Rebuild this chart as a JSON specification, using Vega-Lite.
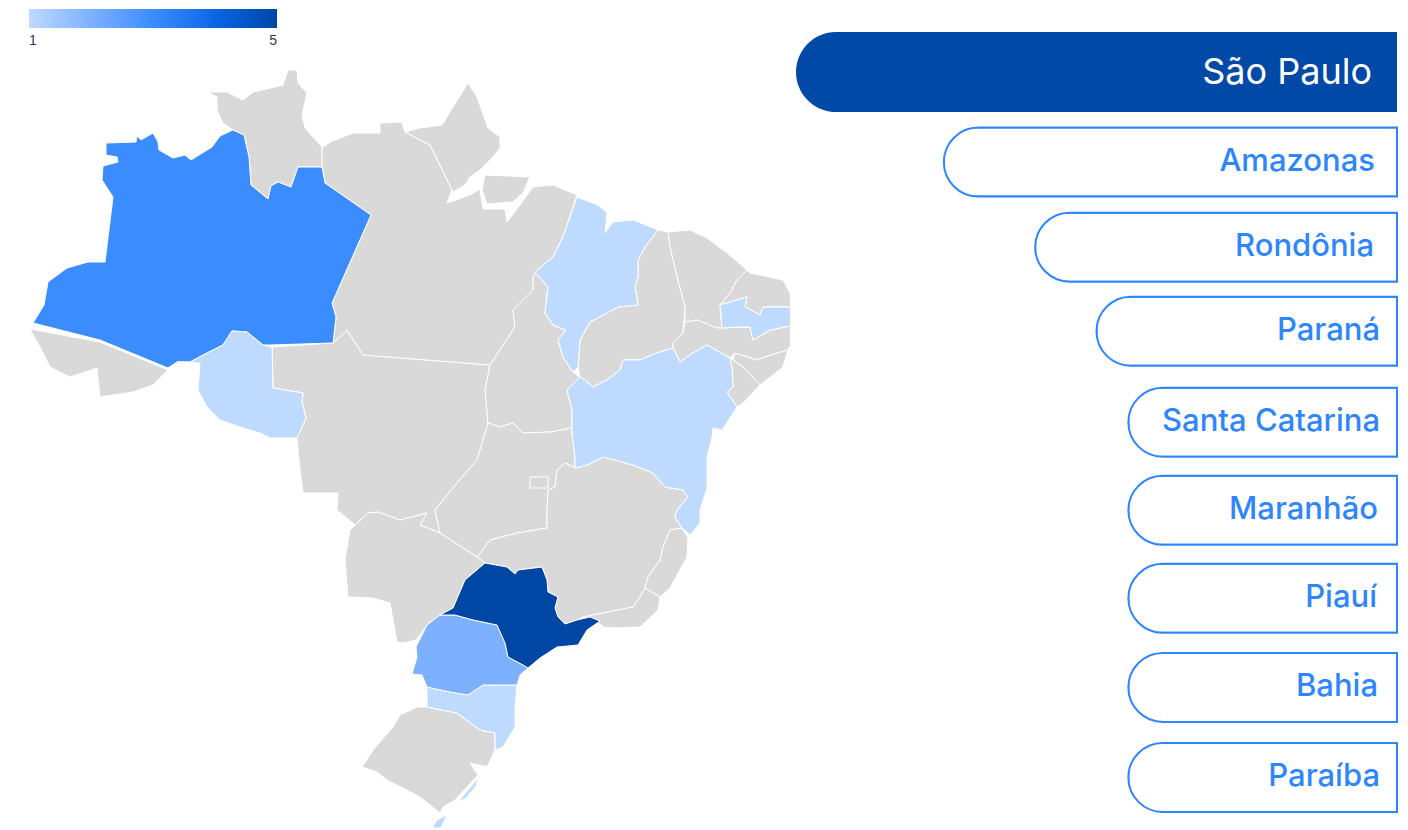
{"$schema":"https://vega.github.io/schema/vega-lite/v6.json","padding":0,"spacing":0,"background":"white","config":{"view":{"stroke":null}},
"datasets":{"ranking":[{"estado":"São Paulo","pct":100},{"estado":"Amazonas","pct":75.4},{"estado":"Rondônia","pct":60.2},{"estado":"Paraná","pct":50},{"estado":"Santa Catarina","pct":44.7},{"estado":"Maranhão","pct":44.7},{"estado":"Piauí","pct":44.7},{"estado":"Bahia","pct":44.7},{"estado":"Paraíba","pct":44.7}],
"estados":[
{"type":"Feature","properties":{"name":"Roraima","value":null},"geometry":{"type":"Polygon","coordinates":[[[-63.6,3.9],[-63.15,3.65],[-63.15,3],[-62.85,2.35],[-62.35,2],[-61.8,1.75],[-61.55,0.65],[-61.45,-0.75],[-60.6,-1.45],[-60.45,-0.8],[-60.1,-0.6],[-59.45,-0.85],[-59.1,0.15],[-57.9,0.15],[-57.9,1.15],[-58.75,2.1],[-58.9,2.75],[-58.65,3.85],[-59.1,4.35],[-59.15,5],[-59.6,5],[-59.85,4.25],[-61.35,3.9],[-61.85,3.5],[-62.65,3.9],[-63.6,3.9]]]}},
{"type":"Feature","properties":{"name":"Acre","value":null},"geometry":{"type":"Polygon","coordinates":[[[-72.5,-7.95],[-69,-8.6],[-65.6,-10],[-66.35,-10.75],[-67.35,-11.1],[-69,-11.35],[-69.15,-9.9],[-70.5,-10.35],[-71.5,-9.85],[-72,-8.85],[-72.5,-7.95]]]}},
{"type":"Feature","properties":{"name":"Mato Grosso","value":null},"geometry":{"type":"Polygon","coordinates":[[[-60.4,-8.85],[-57.35,-8.65],[-56.65,-8],[-55.85,-9.25],[-49.5,-9.75],[-49.75,-11],[-49.6,-12.65],[-50.15,-14.5],[-51.15,-15.65],[-52.25,-17],[-52,-18.15],[-53,-17.75],[-52.65,-17.15],[-54,-17.5],[-55.1,-17.1],[-55.6,-17.15],[-56.25,-17.75],[-57.15,-17],[-57.1,-16.15],[-58.85,-16.15],[-59,-15],[-59.15,-13.4],[-58.7,-12.4],[-58.9,-11.6],[-58.85,-11.15],[-60.35,-10.9],[-60.4,-8.85]]]}},
{"type":"Feature","properties":{"name":"Pará","value":null},"geometry":{"type":"Polygon","coordinates":[[[-57.9,1.1],[-57.5,1.4],[-56.35,1.85],[-55,1.85],[-55,2.35],[-53.9,2.4],[-53.75,1.9],[-52.5,1.25],[-52.25,0.75],[-51.4,-1],[-51.65,-1.65],[-50.5,-1.25],[-50,-0.95],[-49.85,-1.95],[-48.75,-1.95],[-48.65,-2.6],[-48,-1.75],[-47.35,-0.85],[-46.35,-0.75],[-45.15,-1.25],[-45.85,-3.35],[-46.35,-4.35],[-47.25,-5.1],[-47.35,-5.4],[-47.35,-6],[-48.35,-7],[-48.25,-7.85],[-49.5,-9.75],[-55.85,-9.25],[-56.65,-8],[-57.35,-8.65],[-57.2,-7.35],[-57.4,-6.65],[-55.45,-2.25],[-57.75,-0.65],[-57.9,0.15],[-57.9,1.1]]]}},
{"type":"Feature","properties":{"name":"Amapá","value":null},"geometry":{"type":"Polygon","coordinates":[[[-53.75,1.9],[-53,2.1],[-51.9,2.25],[-51.35,3.15],[-50.6,4.35],[-50.15,3.65],[-49.6,2.1],[-49,1.65],[-49,1.1],[-49.4,0.6],[-50,0],[-50.5,-0.35],[-50.75,-0.75],[-51.35,-1.1],[-52.25,0.75],[-52.5,1.25],[-53.75,1.9]]]}},
{"type":"Feature","properties":{"name":"Ilha de Marajó","value":null},"geometry":{"type":"Polygon","coordinates":[[[-49.75,-0.25],[-47.5,-0.35],[-47.85,-1.15],[-48.35,-1.6],[-49.65,-1.7],[-49.9,-1],[-49.75,-0.25]]]}},
{"type":"Feature","properties":{"name":"Tocantins","value":null},"geometry":{"type":"Polygon","coordinates":[[[-47.25,-5.1],[-46.6,-5.85],[-46.75,-7.15],[-46.35,-7.75],[-45.7,-8],[-46.1,-8.5],[-45.85,-9.35],[-45.35,-10.1],[-45,-10.35],[-45.65,-11],[-45.4,-12],[-45.4,-12.9],[-46.5,-13.1],[-47.85,-13.15],[-48.35,-12.65],[-49,-12.85],[-49.6,-12.65],[-49.75,-11],[-49.5,-9.75],[-48.25,-7.85],[-48.35,-7],[-47.35,-6],[-47.35,-5.4],[-47.25,-5.1]]]}},
{"type":"Feature","properties":{"name":"Goiás","value":null},"geometry":{"type":"Polygon","coordinates":[[[-49.6,-12.65],[-49,-12.85],[-48.35,-12.65],[-47.85,-13.15],[-46.5,-13.1],[-45.4,-12.9],[-45.4,-13.15],[-45.25,-14.35],[-45.25,-14.9],[-45.75,-14.65],[-46.15,-15],[-46.25,-15.85],[-46.6,-16],[-46.65,-17],[-46.65,-17.9],[-48.15,-18.15],[-49.5,-18.5],[-50.15,-19.35],[-52,-18.15],[-52.25,-17],[-51.15,-15.65],[-50.15,-14.5],[-49.6,-12.65]]]}},
{"type":"Feature","properties":{"name":"Distrito Federal","value":null},"geometry":{"type":"Polygon","coordinates":[[[-47.5,-15.35],[-46.6,-15.35],[-46.6,-15.9],[-47.5,-15.9],[-47.5,-15.35]]]}},
{"type":"Feature","properties":{"name":"Minas Gerais","value":null},"geometry":{"type":"Polygon","coordinates":[[[-50.15,-19.35],[-49.5,-18.5],[-48.15,-18.15],[-46.65,-17.9],[-46.65,-17],[-46.6,-16],[-46.25,-15.85],[-46.15,-15],[-45.75,-14.65],[-45.25,-14.9],[-44.65,-14.75],[-43.85,-14.35],[-43.25,-14.5],[-42.35,-14.75],[-41.35,-15.15],[-40.75,-15.85],[-39.85,-16],[-39.6,-16.35],[-40.15,-17],[-40.25,-17.35],[-39.9,-17.9],[-40.5,-18],[-40.85,-18.85],[-41,-19.5],[-41.6,-20.35],[-41.75,-20.9],[-42,-21.35],[-42.35,-21.85],[-43.85,-22.15],[-44.85,-22.35],[-45.15,-22.5],[-45.75,-22.7],[-46.1,-22.35],[-46.25,-21.9],[-46.1,-21.35],[-46.6,-21.1],[-46.65,-20.5],[-46.9,-19.85],[-48.1,-20],[-48.25,-20.2],[-48.65,-19.85],[-49.75,-19.65],[-50.15,-19.35]]]}},
{"type":"Feature","properties":{"name":"Espírito Santo","value":null},"geometry":{"type":"Polygon","coordinates":[[[-40.5,-18],[-39.9,-17.9],[-39.6,-18.4],[-39.65,-19.35],[-40.1,-20.15],[-40.5,-20.9],[-41,-21.35],[-41.75,-20.9],[-41.6,-20.35],[-41,-19.5],[-40.85,-18.85],[-40.5,-18]]]}},
{"type":"Feature","properties":{"name":"Rio de Janeiro","value":null},"geometry":{"type":"Polygon","coordinates":[[[-41.75,-20.9],[-41,-21.35],[-41.1,-22],[-42,-22.85],[-43.1,-22.9],[-43.85,-22.85],[-44.1,-22.6],[-44.85,-22.35],[-43.85,-22.15],[-42.35,-21.85],[-42,-21.35],[-41.75,-20.9]]]}},
{"type":"Feature","properties":{"name":"Rio Grande do Sul","value":null},"geometry":{"type":"Polygon","coordinates":[[[-53.15,-26.85],[-52.65,-26.85],[-51.15,-27.15],[-50,-28],[-49.25,-28.15],[-49.25,-29],[-49.65,-29.85],[-50.5,-29.65],[-50.1,-30.25],[-51.25,-31.5],[-51.85,-31.85],[-52,-32.15],[-53,-31.35],[-54.65,-30.5],[-55.15,-30.1],[-55.9,-29.85],[-55.35,-29],[-54.35,-27.85],[-54,-27.25],[-53.15,-26.85]]]}},
{"type":"Feature","properties":{"name":"Mato Grosso do Sul","value":null},"geometry":{"type":"Polygon","coordinates":[[[-56.25,-17.75],[-55.6,-17.15],[-55.1,-17.1],[-54,-17.5],[-52.65,-17.15],[-53,-17.75],[-52,-18.15],[-50.15,-19.35],[-49.75,-19.65],[-50.75,-20.5],[-51.35,-21.9],[-52,-22.25],[-52.65,-22.75],[-53.2,-23.5],[-53.85,-23.65],[-54.15,-23.6],[-54.5,-21.65],[-55.35,-21.4],[-56.6,-21.35],[-56.75,-19.5],[-56.5,-18],[-56.25,-17.75]]]}},
{"type":"Feature","properties":{"name":"Ceará","value":null},"geometry":{"type":"Polygon","coordinates":[[[-40.6,-3.1],[-39.5,-3],[-38.65,-3.4],[-37.65,-4.15],[-36.65,-5],[-37.15,-5.5],[-37.5,-6.15],[-38,-6.75],[-37.9,-7.9],[-38.15,-7.9],[-39.15,-7.5],[-39.75,-7.6],[-39.75,-6.85],[-40.15,-5.35],[-40.5,-3.85],[-40.6,-3.1]]]}},
{"type":"Feature","properties":{"name":"Piauí","value":null},"geometry":{"type":"Polygon","coordinates":[[[-41.1,-3],[-40.6,-3.1],[-40.5,-3.85],[-40.15,-5.35],[-39.75,-6.85],[-39.85,-8.15],[-40.35,-8.65],[-40.35,-8.9],[-41.15,-9.15],[-42,-9.5],[-42.85,-9.5],[-43,-10],[-43.65,-10.5],[-44.35,-10.85],[-44.75,-10.5],[-45,-10.35],[-45.1,-9.85],[-45,-8.5],[-44.5,-7.6],[-43.1,-6.85],[-42.1,-6.75],[-42.25,-5.85],[-42.1,-5.35],[-42.1,-4.5],[-41.75,-3.85],[-41.1,-3]]]}},
{"type":"Feature","properties":{"name":"Rio Grande do Norte","value":null},"geometry":{"type":"Polygon","coordinates":[[[-36.65,-5],[-36.5,-5.15],[-34.85,-5.5],[-34.5,-6.15],[-34.4,-6.85],[-35.85,-6.85],[-36,-7.25],[-36.75,-6.85],[-36.65,-6.35],[-38,-6.75],[-37.5,-6.15],[-37.15,-5.5],[-36.65,-5]]]}},
{"type":"Feature","properties":{"name":"Pernambuco","value":null},"geometry":{"type":"Polygon","coordinates":[[[-39.75,-7.6],[-39.15,-7.5],[-38.15,-7.9],[-37.9,-7.9],[-37.15,-7.85],[-36.5,-7.85],[-36.35,-8.5],[-35.5,-8],[-34.25,-7.75],[-34.25,-8.35],[-34.6,-9],[-35.15,-9.15],[-36.15,-9.5],[-37.25,-9.15],[-37.5,-9.4],[-38.65,-8.75],[-39.35,-9.15],[-40,-9.6],[-40.35,-8.9],[-40.35,-8.65],[-39.85,-8.15],[-39.75,-7.6]]]}},
{"type":"Feature","properties":{"name":"Alagoas","value":null},"geometry":{"type":"Polygon","coordinates":[[[-37.25,-9.15],[-36.15,-9.5],[-35.15,-9.15],[-34.6,-9],[-34.85,-9.85],[-36,-10.75],[-36.85,-9.85],[-37.35,-9.5],[-37.25,-9.15]]]}},
{"type":"Feature","properties":{"name":"Sergipe","value":null},"geometry":{"type":"Polygon","coordinates":[[[-37.5,-9.4],[-37.35,-9.5],[-36.85,-9.85],[-36,-10.75],[-36.85,-11.65],[-37.15,-11.85],[-37.65,-11.1],[-37.35,-10.85],[-37.4,-9.9],[-37.5,-9.4]]]}},
{"type":"Feature","properties":{"name":"Amazonas","value":3},"geometry":{"type":"Polygon","coordinates":[[[-68.7,1.35],[-67.2,1.4],[-67.15,1.7],[-66.95,1.5],[-66.35,1.85],[-66.1,1.4],[-66.05,1],[-65.35,0.6],[-64.75,0.75],[-64.45,0.5],[-63.4,1.15],[-63,1.7],[-62.35,2],[-61.8,1.75],[-61.55,0.65],[-61.45,-0.75],[-60.6,-1.45],[-60.45,-0.8],[-60.1,-0.6],[-59.45,-0.85],[-59.1,0.15],[-57.9,0.15],[-57.75,-0.65],[-55.45,-2.25],[-57.4,-6.65],[-57.2,-7.35],[-57.35,-8.65],[-60.5,-8.75],[-60.85,-8.75],[-61.65,-8.1],[-62.4,-8.05],[-62.85,-8.75],[-63.65,-9.15],[-64.5,-9.6],[-65.15,-9.6],[-65.6,-9.9],[-69,-8.5],[-72.35,-7.65],[-71.8,-6.75],[-71.6,-5.6],[-70.65,-4.9],[-69.6,-4.6],[-68.75,-4.6],[-68.35,-1.35],[-68.9,-0.5],[-68.85,0.2],[-68.1,0.4],[-68.15,0.65],[-68.7,0.75],[-68.7,1.35]]]}},
{"type":"Feature","properties":{"name":"Rondônia","value":1},"geometry":{"type":"Polygon","coordinates":[[[-65.15,-9.6],[-64.5,-9.6],[-63.65,-9.15],[-62.85,-8.75],[-62.4,-8.05],[-61.65,-8.1],[-60.85,-8.75],[-60.4,-8.85],[-60.35,-10.9],[-58.85,-11.15],[-58.9,-11.6],[-58.7,-12.4],[-59.15,-13.4],[-60.5,-13.4],[-61,-13.15],[-62,-12.85],[-63,-12.5],[-63.65,-11.85],[-64.1,-11],[-64,-9.65],[-65.15,-9.6]]]}},
{"type":"Feature","properties":{"name":"Maranhão","value":1},"geometry":{"type":"Polygon","coordinates":[[[-45.15,-1.35],[-44.1,-1.75],[-43.65,-2.15],[-43.75,-3.15],[-43.35,-2.6],[-42.35,-2.5],[-41.1,-3],[-41.75,-3.85],[-42.1,-4.5],[-42.1,-5.35],[-42.25,-5.85],[-42.1,-6.75],[-43.1,-6.85],[-44.5,-7.6],[-45,-8.5],[-45.1,-9.85],[-45.35,-10.1],[-45.85,-9.35],[-46.1,-8.5],[-45.7,-8],[-46.35,-7.75],[-46.75,-7.15],[-46.6,-5.85],[-47.25,-5.1],[-46.35,-4.35],[-45.85,-3.35],[-45.15,-1.35]]]}},
{"type":"Feature","properties":{"name":"Paraíba","value":1},"geometry":{"type":"Polygon","coordinates":[[[-38,-6.75],[-36.65,-6.35],[-36.75,-6.85],[-36,-7.25],[-35.85,-6.85],[-34.4,-6.85],[-34.25,-7.75],[-35.5,-8],[-36.35,-8.5],[-36.5,-7.85],[-37.15,-7.85],[-37.9,-7.9],[-38,-6.75]]]}},
{"type":"Feature","properties":{"name":"Bahia","value":1},"geometry":{"type":"Polygon","coordinates":[[[-45,-10.35],[-44.75,-10.5],[-44.35,-10.85],[-43.65,-10.5],[-43,-10],[-42.85,-9.5],[-42,-9.5],[-41.15,-9.15],[-40.35,-8.9],[-40,-9.6],[-39.35,-9.15],[-38.65,-8.75],[-37.5,-9.4],[-37.4,-9.9],[-37.35,-10.85],[-37.65,-11.1],[-37.15,-11.85],[-37.9,-13],[-38.35,-12.9],[-38.4,-13.4],[-38.65,-14.35],[-38.65,-15.9],[-39,-17],[-39,-17.65],[-39.5,-18.25],[-39.9,-17.9],[-40.25,-17.35],[-40.15,-17],[-39.6,-16.35],[-39.85,-16],[-40.75,-15.85],[-41.35,-15.15],[-42.35,-14.75],[-43.25,-14.5],[-43.85,-14.35],[-44.65,-14.75],[-45.25,-14.9],[-45.25,-14.35],[-45.4,-13.15],[-45.4,-12.9],[-45.4,-12],[-45.65,-11],[-45,-10.35]]]}},
{"type":"Feature","properties":{"name":"Santa Catarina","value":1},"geometry":{"type":"Polygon","coordinates":[[[-52.65,-25.85],[-51.5,-26.1],[-50.6,-26.25],[-49.85,-25.75],[-48.15,-25.75],[-48.25,-26.85],[-48.25,-27.85],[-48.85,-28.85],[-49.25,-29],[-49.25,-28.15],[-50,-28],[-51.15,-27.15],[-52.65,-26.85],[-52.65,-25.85]]]}},
{"type":"Feature","properties":{"name":"Lagoa dos Patos","value":1},"geometry":{"type":"Polygon","coordinates":[[[-51.1,-31.6],[-50.1,-30.4],[-50.2,-30.8],[-50.7,-31.4],[-51.1,-31.6]]]}},
{"type":"Feature","properties":{"name":"Lagoa Mirim","value":1},"geometry":{"type":"Polygon","coordinates":[[[-52.4,-32.9],[-52.15,-32.5],[-51.65,-32.25],[-51.95,-32.9],[-52.4,-32.9]]]}},
{"type":"Feature","properties":{"name":"Paraná","value":2},"geometry":{"type":"Polygon","coordinates":[[[-52,-22.25],[-51.25,-22.25],[-50.35,-22.5],[-49.15,-22.75],[-48.75,-23.65],[-48.6,-24.35],[-47.85,-24.75],[-47.6,-24.9],[-48,-25.25],[-48.15,-25.75],[-49.85,-25.75],[-50.6,-26.25],[-51.5,-26.1],[-52.65,-25.85],[-52.9,-25.25],[-53.4,-25.2],[-53.15,-24.35],[-53.2,-23.85],[-52.65,-22.75],[-52,-22.25]]]}},
{"type":"Feature","properties":{"name":"São Paulo","value":5},"geometry":{"type":"Polygon","coordinates":[[[-52,-22.25],[-51.35,-21.9],[-50.75,-20.5],[-49.75,-19.65],[-48.65,-19.85],[-48.25,-20.2],[-48.1,-20],[-46.9,-19.85],[-46.65,-20.5],[-46.6,-21.1],[-46.1,-21.35],[-46.25,-21.9],[-46.1,-22.35],[-45.75,-22.7],[-45.15,-22.5],[-44.5,-22.35],[-44,-22.55],[-44.65,-23],[-45.1,-23.75],[-46.15,-23.85],[-47,-24.4],[-47.6,-24.9],[-47.85,-24.75],[-48.6,-24.35],[-48.75,-23.65],[-49.15,-22.75],[-50.35,-22.5],[-51.25,-22.25],[-52,-22.25]]]}}
]},
"hconcat":[
{"width":790,"height":830,"data":{"name":"estados"},"projection":{"type":"identity","reflectY":true,"scale":20,"translate":[1480,170]},
"layer":[
{"mark":{"type":"geoshape","fill":"#d9d9d9","stroke":"white","strokeWidth":1},"encoding":{}},
{"transform":[{"filter":"datum.properties.value != null"}],"mark":{"type":"geoshape","stroke":"white","strokeWidth":1},
"encoding":{"color":{"field":"properties.value","type":"quantitative","scale":{"domain":[1,2,3,4,5],"range":["#bfdaff","#7db0ff","#3a8cff","#0a66e6","#0047a5"]},
"legend":{"orient":"none","legendX":29,"legendY":9,"direction":"horizontal","gradientLength":248,"gradientThickness":19,"title":null,"values":[1,5],"format":"d","labelFont":"Liberation Sans","labelFontSize":14,"labelColor":"#2b3a55","gradientStrokeWidth":0,"labelOffset":6}}}}
]},
{"width":618,"height":830,"data":{"name":"ranking"},
"encoding":{"y":{"field":"estado","type":"nominal","sort":null,"axis":null,"scale":{"type":"band","paddingInner":0,"paddingOuter":0,"range":[28,820.5]}}},
"layer":[
{"transform":[{"filter":"datum.estado === 'São Paulo'"}],"mark":{"type":"bar","size":80,"color":"#0049a6","cornerRadiusTopLeft":40,"cornerRadiusBottomLeft":40},
"encoding":{"x":{"field":"pct","type":"quantitative","axis":null,"scale":{"domain":[0,100],"range":[607,6]}}}},
{"transform":[{"filter":"datum.estado !== 'São Paulo'"}],"mark":{"type":"bar","size":69,"fill":"white","stroke":"#2e86ff","strokeWidth":2,"cornerRadiusTopLeft":35,"cornerRadiusBottomLeft":35,"yOffset":{"expr":"({'Amazonas':2,'Rondônia':-1,'Paraná':-5,'Santa Catarina':-2,'Maranhão':-2,'Piauí':-2,'Bahia':-1,'Paraíba':1})[datum.estado]"}},
"encoding":{"x":{"field":"pct","type":"quantitative","axis":null}}},
{"transform":[{"filter":"datum.estado === 'São Paulo'"}],"mark":{"type":"text","align":"right","baseline":"middle","font":"Inter","fontSize":36,"color":"white","dx":-25,"dy":1},
"encoding":{"x":{"datum":0,"type":"quantitative"},"text":{"field":"estado"}}},
{"transform":[{"filter":"datum.estado !== 'São Paulo'"}],"mark":{"type":"text","align":"right","baseline":"middle","font":"Inter","fontWeight":500,"fontSize":31,"color":"#2e86ff","dx":{"expr":"({'Amazonas':-22,'Rondônia':-23,'Paraná':-17,'Santa Catarina':-17,'Maranhão':-19,'Piauí':-20,'Bahia':-19,'Paraíba':-17})[datum.estado]"},"dy":{"expr":"({'Amazonas':2,'Rondônia':-1,'Paraná':-5,'Santa Catarina':-2,'Maranhão':-2,'Piauí':-2,'Bahia':-1,'Paraíba':1})[datum.estado]"}},
"encoding":{"x":{"datum":0,"type":"quantitative"},"text":{"field":"estado"}}}
]}
]}
